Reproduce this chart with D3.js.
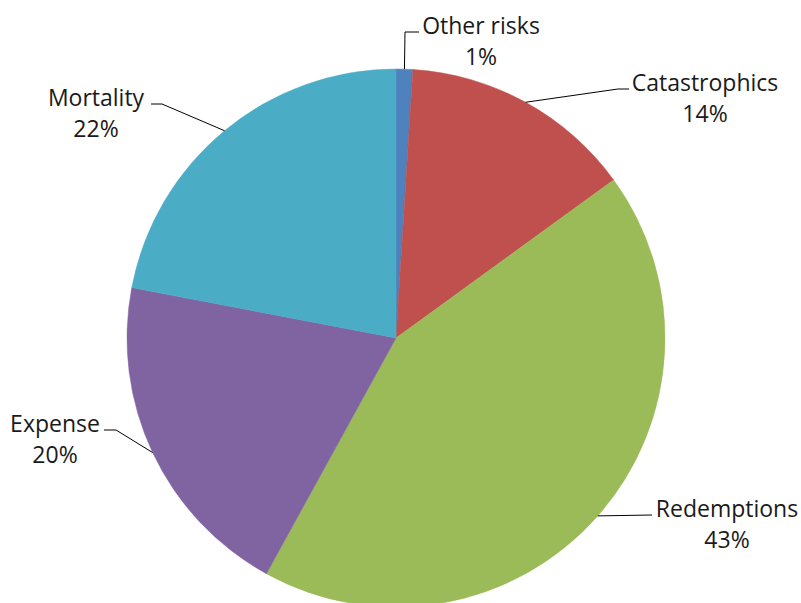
<!DOCTYPE html>
<html>
<head>
<meta charset="utf-8">
<script src="https://cdn.jsdelivr.net/npm/d3@7"></script>
<style>
  html, body { margin: 0; padding: 0; background: #fff; }
  svg { display: block; }
</style>
</head>
<body>
<svg id="chart" width="801" height="603"></svg>
<script>
// ---- data ----
const categories = ["Other risks", "Catastrophics", "Redemptions", "Expense", "Mortality"];
const values = [1, 14, 43, 20, 22];
const colors = ["#4F81BD", "#C0504D", "#9BBB59", "#8064A2", "#4BACC6"];

// ---- label layout (elbow point and text anchor, relative to pie centre) ----
const labelLayout = [
  { elbow: [9, -306], end: [23, -306], tx: 85, anchor: "middle" },
  { elbow: [222, -249], end: [233, -249], tx: 309, anchor: "middle" },
  { elbow: [256, 177], end: [256, 177], tx: 331, anchor: "middle" },
  { elbow: [-280, 92], end: [-292, 92], tx: -341, anchor: "middle" },
  { elbow: [-234, -234], end: [-245, -234], tx: -300, anchor: "middle" }
];

const width = 801, height = 603;
const cx = 396, cy = 338, radius = 269;

const svg = d3.select("#chart");
const g = svg.append("g").attr("transform", `translate(${cx},${cy})`);

const pie = d3.pie().sort(null).value(d => d.value);
const data = categories.map((c, i) => ({ name: c, value: values[i], color: colors[i], layout: labelLayout[i] }));
const arcs = pie(data);
const total = d3.sum(values);

const arc = d3.arc().innerRadius(0).outerRadius(radius);

g.selectAll("path.slice")
  .data(arcs)
  .enter().append("path")
  .attr("class", "slice")
  .attr("d", arc)
  .attr("fill", d => d.data.color)
  .attr("stroke", d => d.data.color)
  .attr("stroke-width", 0.5);

// leader lines and labels
arcs.forEach(d => {
  const mid = (d.startAngle + d.endAngle) / 2;
  const sx = radius * Math.sin(mid), sy = -radius * Math.cos(mid);
  const L = d.data.layout;
  g.append("polyline")
    .attr("points", [[sx, sy], L.elbow, L.end].map(p => p.join(",")).join(" "))
    .attr("fill", "none")
    .attr("stroke", "#000")
    .attr("stroke-width", 1);
  const ty = L.end[1];
  const t = g.append("text")
    .attr("text-anchor", L.anchor)
    .attr("font-family", "'Open Sans', 'Noto Sans', sans-serif")
    .attr("font-size", 23)
    .attr("fill", "#1a1a1a");
  t.append("tspan").attr("x", L.tx).attr("y", ty + 2).text(d.data.name);
  t.append("tspan").attr("x", L.tx).attr("y", ty + 33)
    .text(Math.round(d.data.value / total * 100) + "%");
});
</script>
</body>
</html>
